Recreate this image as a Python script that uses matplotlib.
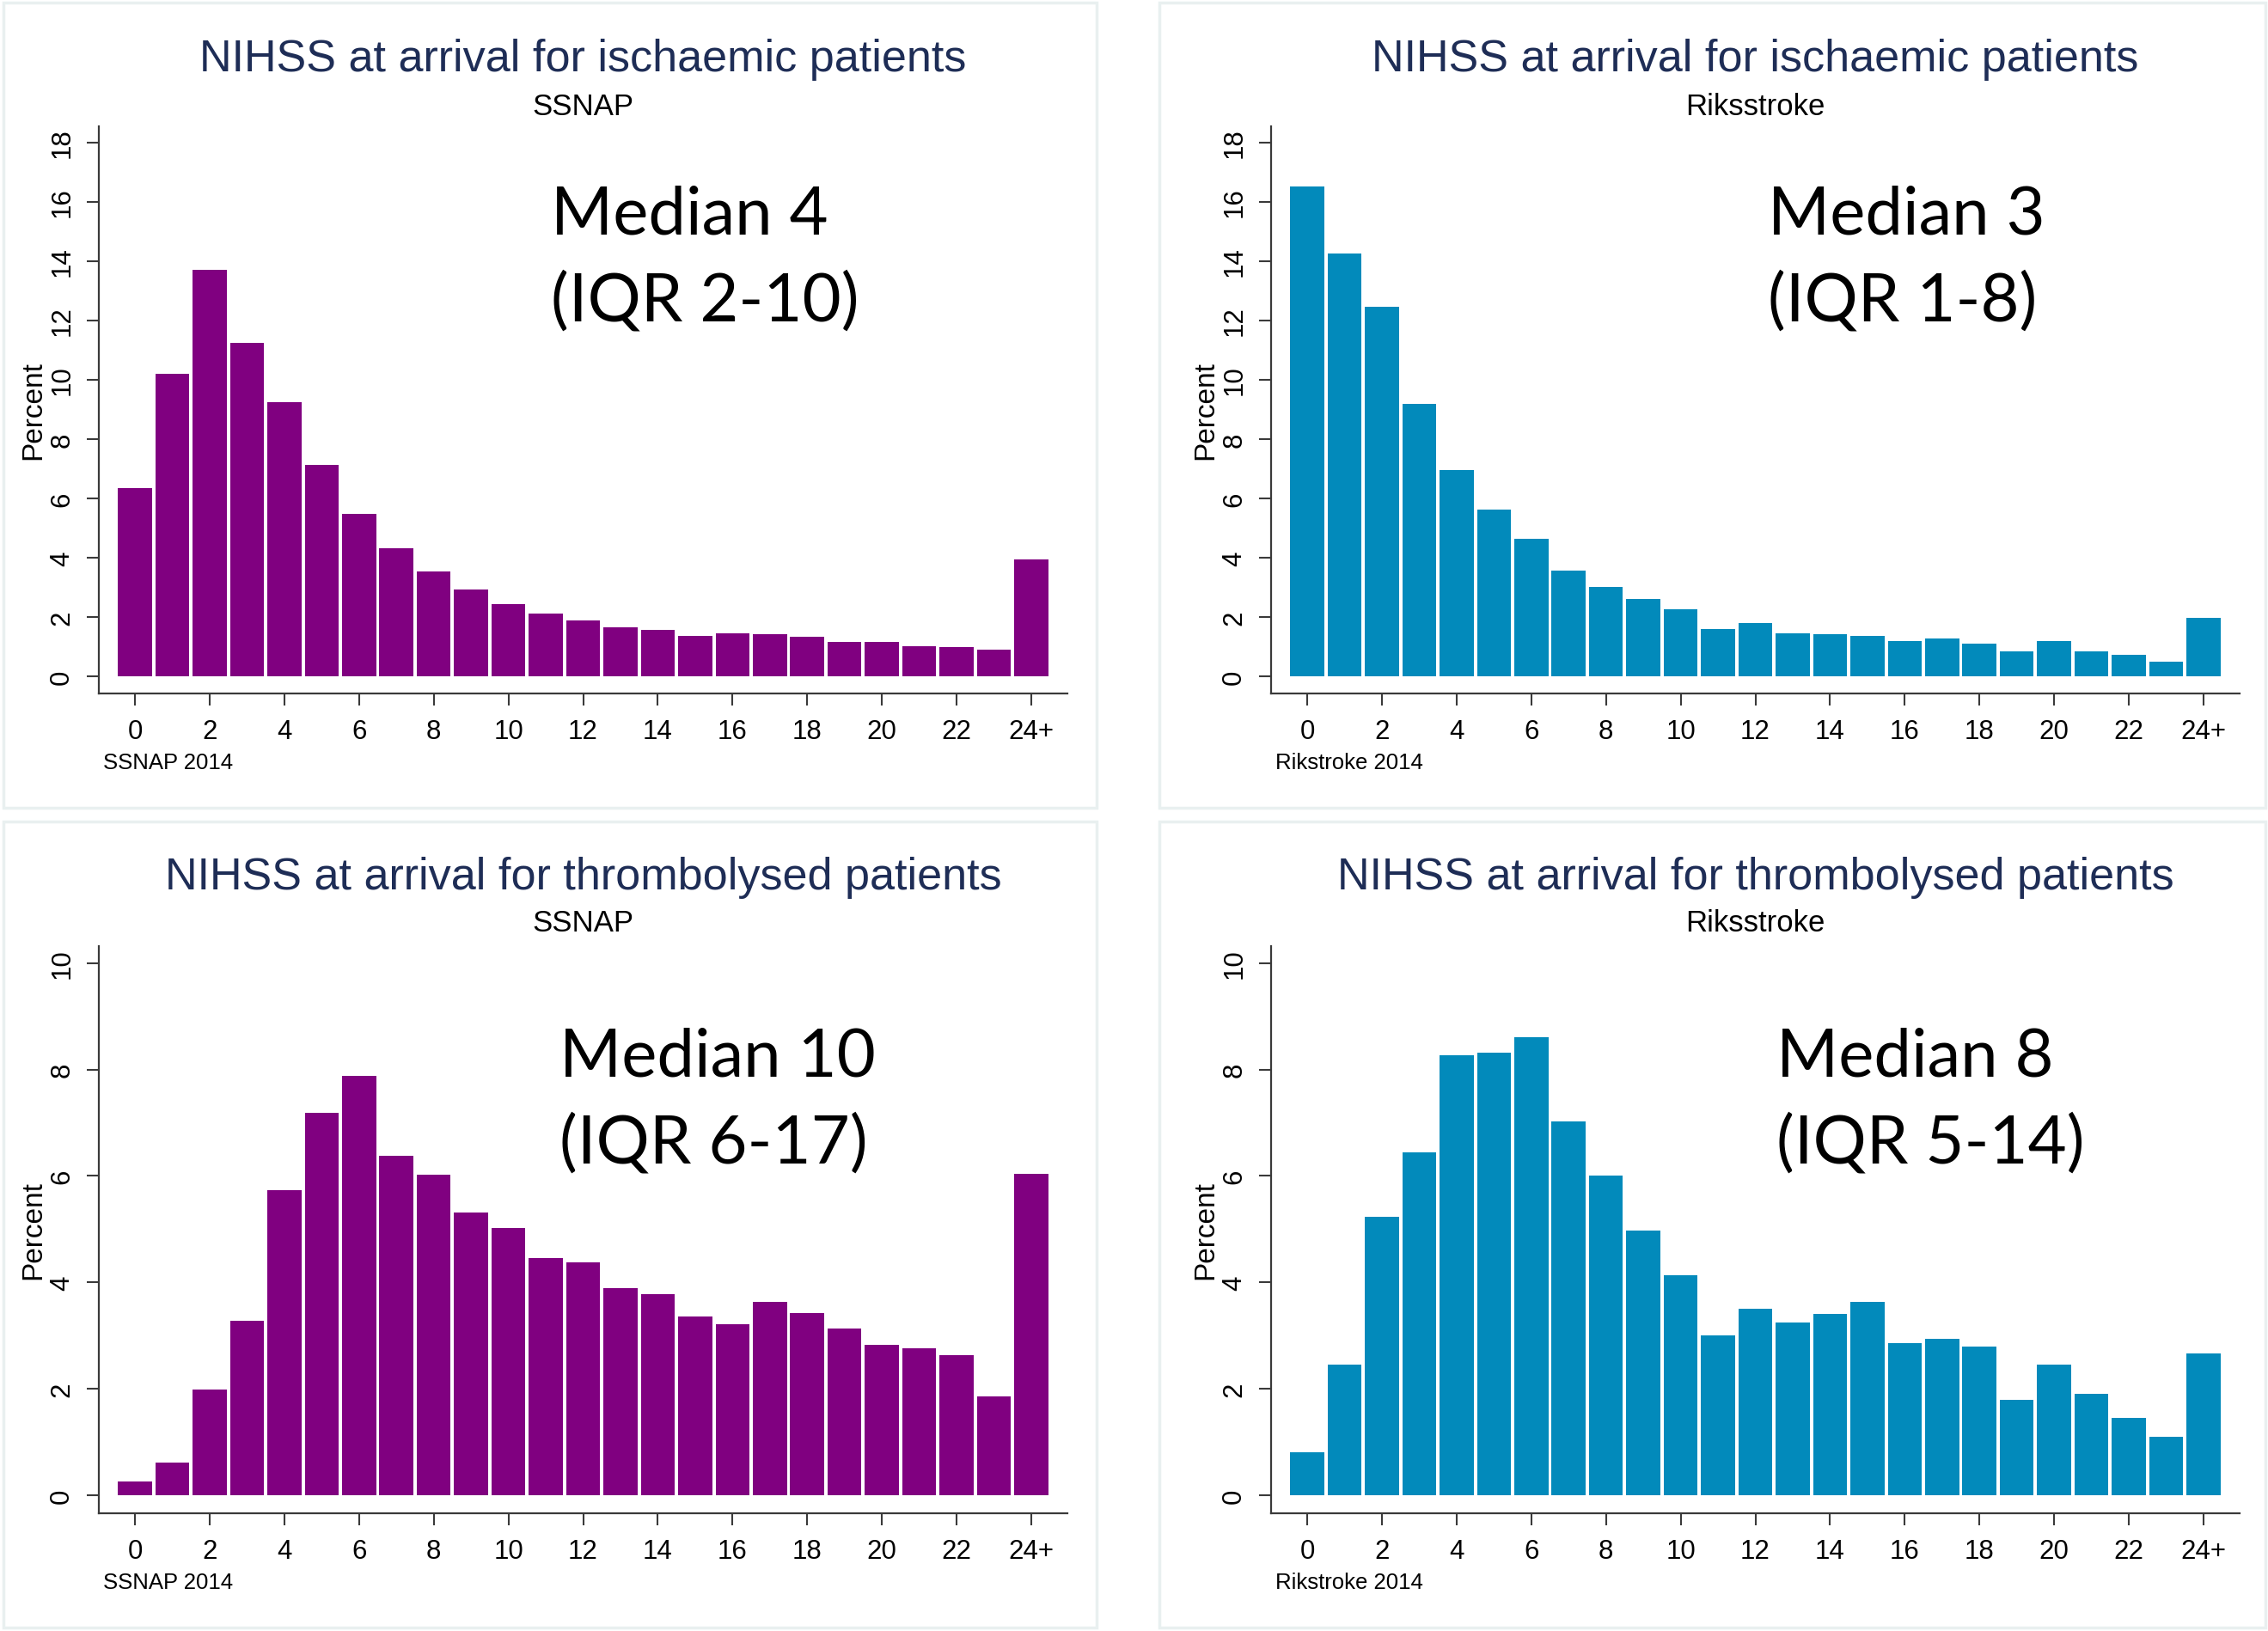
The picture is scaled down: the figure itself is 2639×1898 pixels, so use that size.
import matplotlib
matplotlib.use("Agg")
import matplotlib.pyplot as plt
from matplotlib.patches import Rectangle

W, H = 2639, 1899

scores = list(range(25))
tick_pos = list(range(0, 25, 2))
tick_labels = [str(t) for t in range(0, 24, 2)] + ["24+"]

# percent of patients by NIHSS score (0..23, 24+)
ssnap_isch = [6.34, 10.19, 13.71, 11.25, 9.26, 7.13, 5.49, 4.33, 3.54, 2.92, 2.43, 2.13, 1.88,
              1.64, 1.57, 1.37, 1.46, 1.41, 1.32, 1.16, 1.16, 1.02, 0.99, 0.90, 3.93]
riks_isch = [16.53, 14.26, 12.45, 9.19, 6.97, 5.62, 4.63, 3.57, 3.01, 2.62, 2.27, 1.58, 1.81,
             1.46, 1.43, 1.36, 1.20, 1.27, 1.09, 0.85, 1.20, 0.83, 0.72, 0.49, 1.97]
ssnap_thromb = [0.25, 0.62, 1.99, 3.27, 5.74, 7.19, 7.88, 6.38, 6.02, 5.31, 5.02, 4.45, 4.37,
                3.89, 3.78, 3.36, 3.21, 3.64, 3.43, 3.14, 2.83, 2.76, 2.63, 1.85, 6.04]
riks_thromb = [0.81, 2.46, 5.23, 6.44, 8.27, 8.32, 8.61, 7.03, 6.00, 4.98, 4.14, 3.00, 3.51,
               3.25, 3.40, 3.64, 2.85, 2.94, 2.80, 1.80, 2.46, 1.90, 1.46, 1.10, 2.66]

titles = ["NIHSS at arrival for ischaemic patients", "NIHSS at arrival for thrombolysed patients"]
sources = ["SSNAP", "Riksstroke"]
notes = ["SSNAP 2014", "Rikstroke 2014"]
medians = [["Median 4", "(IQR 2-10)"], ["Median 3", "(IQR 1-8)"],
           ["Median 10", "(IQR 6-17)"], ["Median 8", "(IQR 5-14)"]]

PURPLE = "#800080"
BLUE = "#028abb"
NAVY = "#1e2d56"
AXCOL = "#3a3a3a"

plt.rcParams["font.family"] = ["Liberation Sans", "DejaVu Sans"]

fig = plt.figure(figsize=(W / 100, H / 100), dpi=100)
fig.patch.set_facecolor("white")


def fx(x):
    return x / W


def fy(y):
    return 1 - y / H


# faint panel frames
for (l, t, r, b) in [(4, 4, 1276, 941), (1349, 4, 2636, 941),
                     (4, 957, 1276, 1895), (1349, 957, 2636, 1895)]:
    fig.patches.append(Rectangle((fx(l), fy(b)), fx(r - l), (b - t) / H,
                                 transform=fig.transFigure, fill=False,
                                 edgecolor="#e9f0f0", linewidth=2.5))

panels = [
    # data, color, row, col, ymax, ylim
    (ssnap_isch, PURPLE, 0, 0, 18, (-0.58, 18.55)),
    (riks_isch, BLUE, 0, 1, 18, (-0.58, 18.55)),
    (ssnap_thromb, PURPLE, 1, 0, 10, (-0.34, 10.32)),
    (riks_thromb, BLUE, 1, 1, 10, (-0.34, 10.32)),
]

for i, (vals, color, row, col, ymax, ylim) in enumerate(panels):
    dx = 1364 * col
    top, bottom = (148, 808) if row == 0 else (1102, 1762)
    left, right = 115 + dx, 1242 + dx
    ax = fig.add_axes([fx(left), fy(bottom), fx(right - left), (bottom - top) / H])

    ax.bar(scores, vals, width=0.91, color=color, edgecolor="none")
    ax.set_xlim(-0.97, 24.97)
    ax.set_ylim(*ylim)
    ax.set_xticks(tick_pos)
    ax.set_xticklabels(tick_labels)
    ax.set_yticks(list(range(0, ymax + 1, 2)))
    for s in ["top", "right"]:
        ax.spines[s].set_visible(False)
    for s in ["left", "bottom"]:
        ax.spines[s].set_color(AXCOL)
        ax.spines[s].set_linewidth(1.6)
    ax.tick_params(axis="both", length=10, width=1.5, color=AXCOL)
    ax.tick_params(axis="x", pad=11, labelsize=22.5)
    ax.tick_params(axis="y", pad=10, labelsize=22.5)
    for lbl in ax.get_yticklabels():
        lbl.set_rotation(90)
        lbl.set_va("center")

    cx = (left + right) / 2
    ty = 70 if row == 0 else 1021
    fig.text(fx(cx), fy(ty), titles[row], ha="center", va="center",
             fontsize=37.5, color=NAVY)
    fig.text(fx(cx), fy(ty + 54), sources[col], ha="center", va="center",
             fontsize=25, color="black")
    fig.text(fx(39 + dx), fy((top + bottom) / 2), "Percent", rotation=90,
             ha="center", va="center", fontsize=24)
    fig.text(fx(120 + dx), fy(888 if row == 0 else 1842), notes[col],
             ha="left", va="center", fontsize=18.5)

    mx = [641, 2057, 651, 2067][i]
    my = 251 if row == 0 else 1231
    fig.text(fx(mx), fy(my), medians[i][0], ha="left", va="center",
             fontsize=56, family=["Lato", "DejaVu Sans"])
    fig.text(fx(mx), fy(my + 101), medians[i][1], ha="left", va="center",
             fontsize=56, family=["Lato", "DejaVu Sans"])

fig.savefig("out.png", dpi=100, facecolor="white")
